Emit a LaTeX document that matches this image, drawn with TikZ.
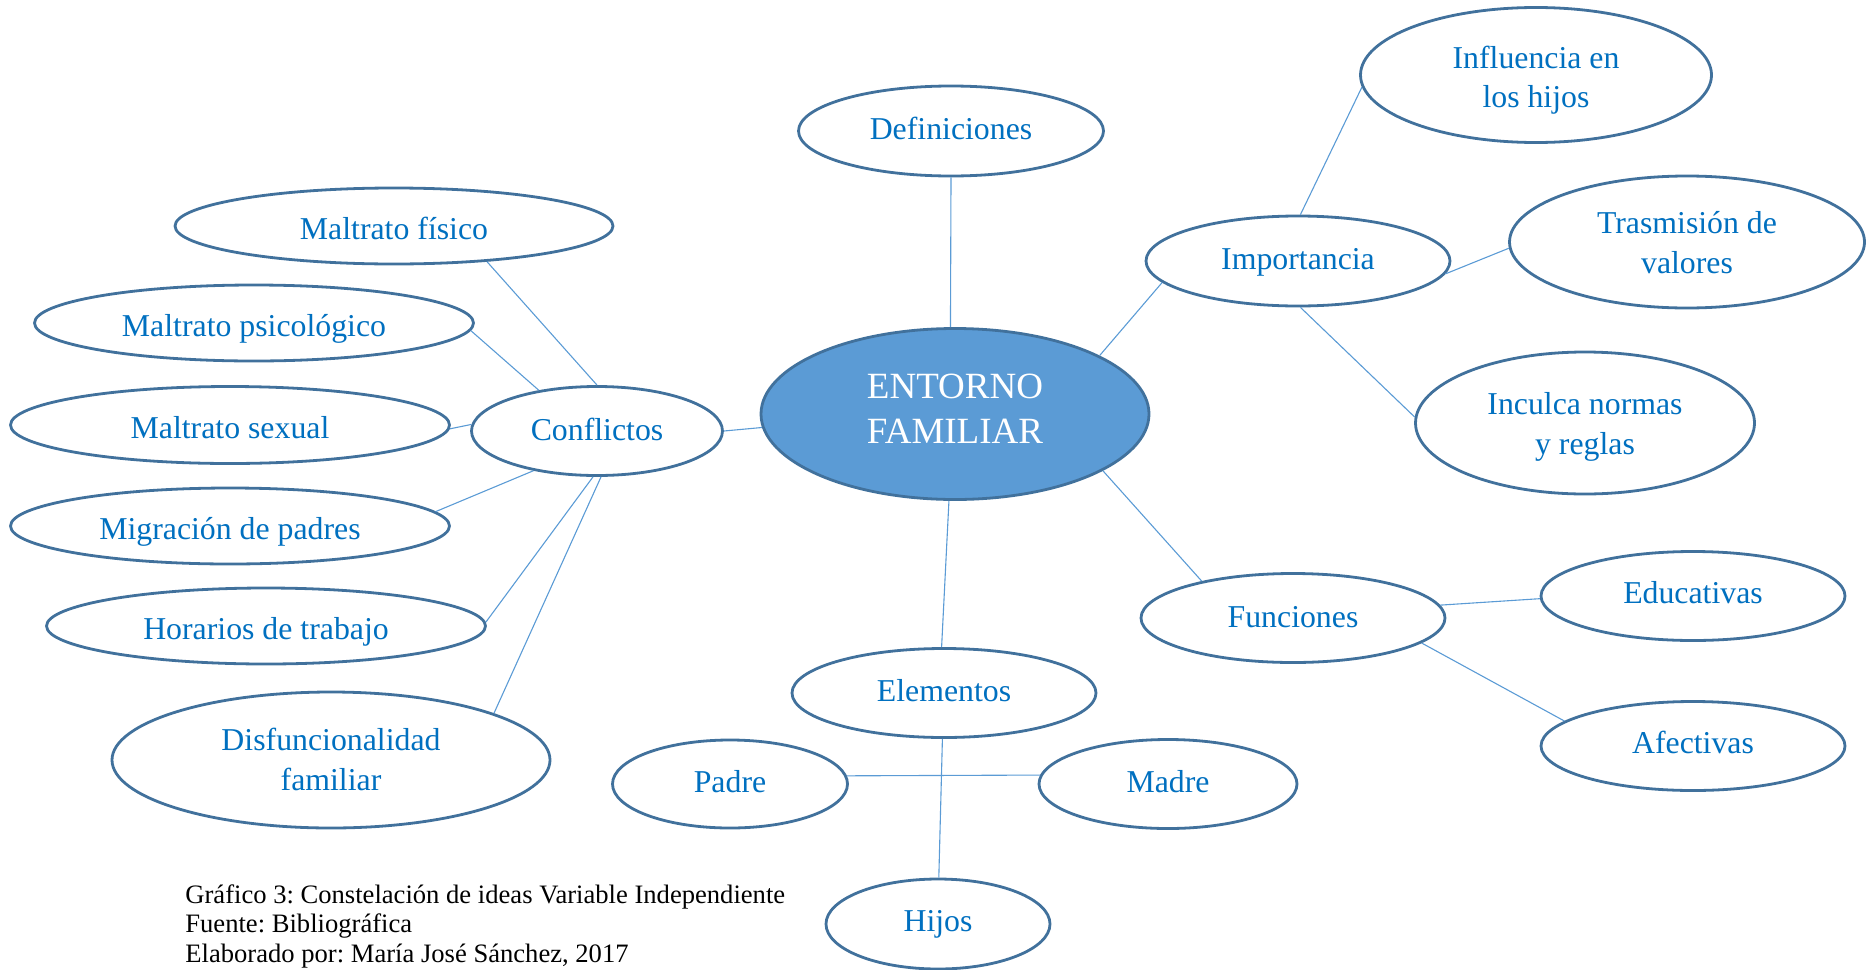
\documentclass[tikz,border=0pt]{standalone}
\usepackage{fontspec}
\setmainfont{Liberation Serif}
\usetikzlibrary{shapes.geometric}
\definecolor{txt}{HTML}{0070C0}
\definecolor{brd}{HTML}{41719C}
\definecolor{lnk}{HTML}{5B9BD5}
\newcommand{\mylbl}[2][0pt]{\raisebox{#1}[\height][\depth]{\begin{tabular}{@{}c@{}}#2\end{tabular}}}
\frenchspacing
\begin{document}
\begin{tikzpicture}[x=0.5pt,y=-0.5pt,
  bub/.style={ellipse, draw=brd, line width=1.4pt, fill=white, inner sep=0pt, text=txt, font=\fontsize{15.9}{20}\selectfont},
  link/.style={draw=lnk, line width=0.55pt},
  captext/.style={anchor=base west, inner sep=0pt, font=\fontsize{13.3}{15}\selectfont}]
\useasboundingbox (0,0) rectangle (1867,969);
\node[bub, minimum width=194pt, minimum height=85.5pt, fill=lnk, text=white, font=\fontsize{18.5}{22.6}\selectfont] (ent) at (955,414) {\mylbl[1.2pt]{ENTORNO\\FAMILIAR}};
\node[bub, minimum width=152.5pt, minimum height=45pt] (def) at (951,131) {\mylbl[-0.4pt]{Definiciones}};
\node[bub, minimum width=175.5pt, minimum height=67.5pt] (inf) at (1536,75) {\mylbl[-2.5pt]{Influencia en\\los hijos}};
\node[bub, minimum width=152pt, minimum height=45pt] (imp) at (1298,261) {\mylbl[-0.4pt]{Importancia}};
\node[bub, minimum width=177.5pt, minimum height=66pt] (tra) at (1687,242) {\mylbl[-1.5pt]{Trasmisión de\\valores}};
\node[bub, minimum width=169.5pt, minimum height=71pt] (inc) at (1585,423) {\mylbl[-1.5pt]{Inculca normas\\y reglas}};
\node[bub, minimum width=219pt, minimum height=38pt] (mf) at (394,226) {\mylbl[-2.75pt]{Maltrato físico}};
\node[bub, minimum width=219.5pt, minimum height=38pt] (mp) at (254,323) {\mylbl[-2.75pt]{Maltrato psicológico}};
\node[bub, minimum width=219.5pt, minimum height=38.5pt] (ms) at (230,425) {\mylbl[-2.5pt]{Maltrato sexual}};
\node[bub, minimum width=125.5pt, minimum height=44.5pt] (con) at (597,431) {\mylbl[-0.5pt]{Conflictos}};
\node[bub, minimum width=219.5pt, minimum height=38pt] (mig) at (230,526) {\mylbl[-2.75pt]{Migración de padres}};
\node[bub, minimum width=219.5pt, minimum height=38pt] (hor) at (266,626) {\mylbl[-2.75pt]{Horarios de trabajo}};
\node[bub, minimum width=219pt, minimum height=68pt] (dis) at (331,760) {\mylbl[-1pt]{Disfuncionalidad\\familiar}};
\node[bub, minimum width=152pt, minimum height=44.5pt] (fun) at (1293,618) {\mylbl[-0.5pt]{Funciones}};
\node[bub, minimum width=152pt, minimum height=44.5pt] (edu) at (1693,596) {\mylbl[0.5pt]{Educativas}};
\node[bub, minimum width=152pt, minimum height=44.5pt] (afe) at (1693,746) {\mylbl[0.5pt]{Afectivas}};
\node[bub, minimum width=152pt, minimum height=44.5pt] (ele) at (944,693) {\mylbl[-0.4pt]{Elementos}};
\node[bub, minimum width=117.5pt, minimum height=44pt] (pad) at (730,784) {\mylbl{Padre}};
\node[bub, minimum width=129pt, minimum height=44.5pt] (mad) at (1168,784) {\mylbl{Madre}};
\node[bub, minimum width=112pt, minimum height=45pt] (hij) at (938,924) {\mylbl[0.5pt]{Hijos}};
\draw[link] (def.-90) -- (ent.93);
\draw[link] (imp.189) -- (ent.22);
\draw[link] (inf.184) -- (imp.87);
\draw[link] (tra.182) -- (imp.-5);
\draw[link] (inc.178) -- (imp.-87);
\draw[link] (fun.158) -- (ent.-21);
\draw[link] (edu.181) -- (fun.5);
\draw[link] (afe.169) -- (fun.-11);
\draw[link] (ent.-94) -- (ele.93);
\draw[link] (ele.-92) -- (hij.89);
\draw[link] (pad.4) -- (mad.176);
\draw[link] (con.0) -- (ent.184);
\draw[link] (mf.-21) -- (con.90);
\draw[link] (mp.-2) -- (con.145);
\draw[link] (ms.-1) -- (con.177);
\draw[link] (mig.4) -- (con.212);
\draw[link] (hor.1) -- (con.265);
\draw[link] (dis.16) -- (con.-85);
\node[captext] (c1) at (185,903) {Gráfico 3: Constelación de ideas Variable Independiente};
\node[captext] (c2) at (185,932) {Fuente: Bibliográfica};
\node[captext] (c3) at (185,962) {Elaborado por: María José Sánchez, 2017};
\end{tikzpicture}
\end{document}
